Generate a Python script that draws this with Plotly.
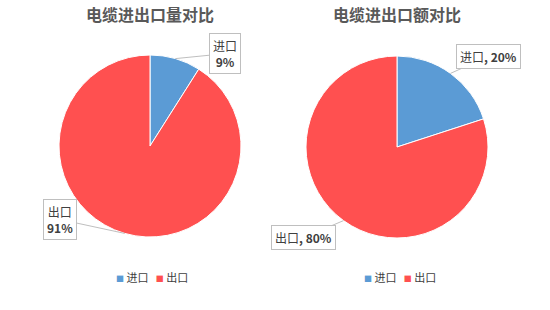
import math
import plotly.graph_objects as go

labels = ["进口", "出口"]
qty_values = [9, 91]
amt_values = [20, 80]
titles = ["电缆进出口量对比", "电缆进出口额对比"]
colors = ["#5B9BD5", "#FF5050"]

W, H = 550, 310
FONT = "Noto Sans CJK SC, Microsoft YaHei, sans-serif"

# pie geometry (pixels)
pies = [
    dict(cx=150, cy=146, r=91, values=qty_values,
         fmt=lambda l, v: f"{l}<br><b>{v}%</b>",
         offsets=[(50, -5), (-65, -14)], title=titles[0], legx=152),
    dict(cx=397, cy=147, r=91, values=amt_values,
         fmt=lambda l, v: f"{l}<b>, {v}%</b>",
         offsets=[(38, -17), (-40, 17)], title=titles[1], legx=400),
]

fig = go.Figure()
annotations = []
for p in pies:
    cx, cy, r = p["cx"], p["cy"], p["r"]
    fig.add_trace(go.Pie(
        labels=labels, values=p["values"], sort=False, direction="clockwise",
        rotation=0, marker=dict(colors=colors, line=dict(color="white", width=1)),
        textinfo="none", hoverinfo="label+percent", showlegend=False,
        domain=dict(x=[(cx - r) / W, (cx + r) / W], y=[1 - (cy + r) / H, 1 - (cy - r) / H]),
    ))
    total = sum(p["values"])
    start = 0.0
    for i, v in enumerate(p["values"]):
        frac = v / total
        mid = (start + frac / 2) * 2 * math.pi
        start += frac
        tx = cx + r * math.sin(mid)
        ty = cy - r * math.cos(mid)
        ax, ay = p["offsets"][i]
        annotations.append(dict(
            x=tx / W, y=1 - ty / H, xref="paper", yref="paper",
            text=p["fmt"](labels[i], round(frac * 100)),
            showarrow=True, arrowhead=0, arrowwidth=1, arrowcolor="#BFBFBF",
            ax=ax, ay=ay, standoff=0,
            bordercolor="#BFBFBF", borderwidth=1, borderpad=3, bgcolor="white",
            font=dict(family=FONT, size=12, color="#404040"), align="center",
        ))
    annotations.append(dict(
        x=cx / W, y=1 - 14 / H, xref="paper", yref="paper", showarrow=False,
        text=f"<b>{p['title']}</b>", xanchor="center", yanchor="middle",
        font=dict(family=FONT, size=16, color="#595959"),
    ))
    # legend
    legend_text = "&nbsp;&nbsp;&nbsp;".join(
        f"<span style='color:{c};font-size:8px'>■</span> {l}" for l, c in zip(labels, colors)
    )
    annotations.append(dict(
        x=p["legx"] / W, y=1 - 277 / H, xref="paper", yref="paper", showarrow=False,
        text=legend_text, xanchor="center", yanchor="middle",
        font=dict(family=FONT, size=11, color="#404040"),
    ))

fig.update_layout(
    width=W, height=H, margin=dict(l=0, r=0, t=0, b=0),
    paper_bgcolor="white", plot_bgcolor="white",
    annotations=annotations, showlegend=False,
)

fig.write_html("out.html")
